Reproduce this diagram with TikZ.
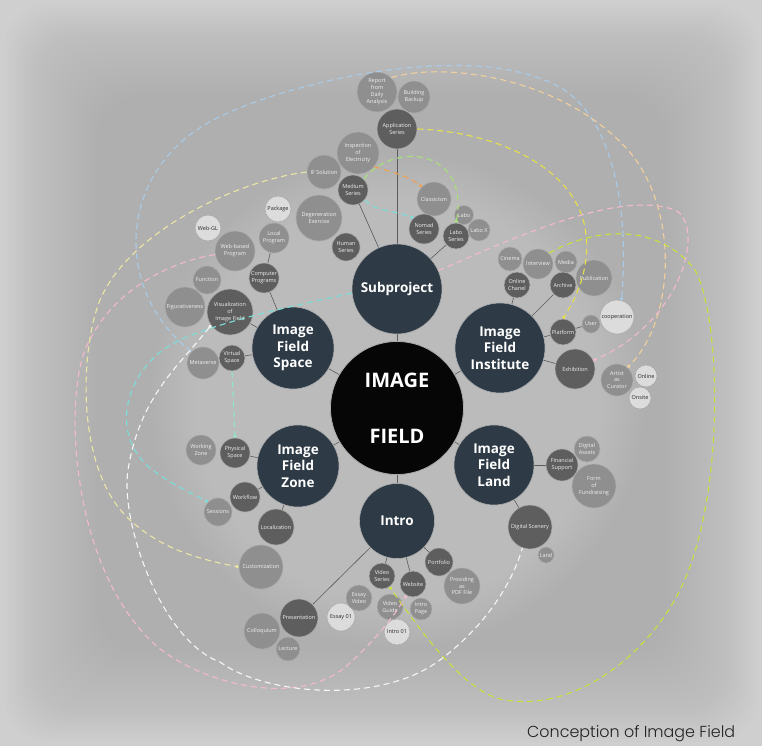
\documentclass[tikz,border=0pt]{standalone}
\usepackage{fontspec}
\usepackage{graphicx}
\setmainfont{Open Sans}
\newfontfamily\capfont{Poppins}[UprightFont={* Light}]
\usetikzlibrary{arrows.meta,fadings}

\definecolor{bgouter}{HTML}{CFCFCF}
\definecolor{bgshade}{HTML}{A0A0A0}
\definecolor{hubfill}{HTML}{2E3B46}
\definecolor{corefill}{HTML}{060606}
\definecolor{dkfill}{HTML}{5E5E5E}
\definecolor{mdfill}{HTML}{8F8F8F}
\definecolor{ltfill}{HTML}{DCDCDC}
\definecolor{ring}{HTML}{ABABAB}
\definecolor{linkgray}{HTML}{5A5A5A}
\definecolor{txtlight}{HTML}{EFEFEF}
\definecolor{txtdark}{HTML}{2A2A2A}
\definecolor{captext}{HTML}{222222}
% dashed relation colours
\definecolor{skyc}{HTML}{A9CBE8}
\definecolor{peachc}{HTML}{F1D09C}
\definecolor{yellowc}{HTML}{E6E04A}
\definecolor{limec}{HTML}{C6E23C}
\definecolor{greenc}{HTML}{A8E07A}
\definecolor{cyanc}{HTML}{7CDED8}
\definecolor{orangec}{HTML}{EFA052}
\definecolor{pinkc}{HTML}{F2BACB}
\definecolor{whitec}{HTML}{F6F6F6}
\definecolor{creamc}{HTML}{ECE6A6}
\definecolor{mintc}{HTML}{8EE8C6}

\pgfdeclarelayer{bg}
\pgfsetlayers{bg,main}

\tikzset{
  bub/.style={circle, inner sep=0pt, align=center, draw=ring, line width=0.6pt,
    font=\fontsize{5.5}{6.9}\selectfont},
  core/.style={circle, inner sep=0pt, align=center, draw=ring, line width=0.8pt,
    fill=corefill, text=white, minimum size=133pt,
    font=\bfseries\fontsize{20}{26}\selectfont},
  hub/.style={bub, fill=hubfill, text=white, minimum size=#1,
    font=\bfseries\fontsize{13.5}{16.5}\selectfont},
  dk/.style={bub, fill=dkfill, text=txtlight, minimum size=#1},
  md/.style={bub, fill=mdfill, text=txtlight, minimum size=#1},
  lt/.style={bub, fill=ltfill, text=txtdark, minimum size=#1},
  link/.style={draw=linkgray, line width=0.6pt},
  flow/.style={line width=1.1pt, dash pattern=on 6pt off 4pt,
    -{Circle[length=3.2pt,width=3.2pt]}},
  backflow/.style={line width=1.1pt, dash pattern=on 6pt off 4pt,
    {Circle[length=3.2pt,width=3.2pt]}-},
}

\begin{document}
\begin{tikzpicture}[x=1pt, y=-1pt]
\useasboundingbox (0,0) rectangle (762,746);

% ---------- backdrop: soft frame, darker field, light halo ----------
\begin{pgfonlayer}{bg}
  \fill[bgouter] (0,0) rectangle (762,746);
  \foreach \i in {0,...,23}
    \fill[bgshade, opacity=0.032, rounded corners=45pt]
      (4+4*\i,4+4*\i) rectangle (758-4*\i,742-4*\i);
  \fill[white, opacity=0.16, path fading=circle with fuzzy edge 20 percent]
    (397,400) circle (250);
\end{pgfonlayer}

% ---------- centre and main branches ----------
\node[core] (core) at (397,408) {IMAGE\\[30pt]FIELD};
\node[hub=90pt] (sub)   at (397,289) {Subproject};
\node[hub=82pt] (space) at (293,348) {Image\\Field\\Space};
\node[hub=90pt] (inst)  at (500,348) {Image\\Field\\Institute};
\node[hub=82pt] (zone)  at (298,466) {Image\\Field\\Zone};
\node[hub=80pt] (land)  at (494,465) {Image\\Field\\Land};
\node[hub=75pt] (intro) at (397,521) {Intro};

% ---------- Subproject ----------
\node[dk=40pt] (appl)    at (397,129) {Application\\Series};
\node[md=40pt] (report)  at (377,92)  {Report\\from\\Daily\\Analysis};
\node[md=32pt] (backup)  at (414,97)  {Building\\Backup};
\node[md=42pt] (inspect) at (358,153) {Inspection\\of\\Electricity};
\node[md=34pt] (ifsol)   at (324,172) {IF Solution};
\node[dk=30pt] (medium)  at (353,190) {Medium\\Series};
\node[md=34pt] (classic) at (434,199) {Classicism};
\node[md=46pt] (degen)   at (319,218) {Degeneration\\Exercise};
\node[md=19pt] (labo)    at (464,215) {Labo};
\node[md=22pt] (labox)   at (479,230) {Labo X};
\node[dk=30pt] (nomad)   at (424,229) {Nomad\\Series};
\node[dk=26pt] (labos)   at (456,236) {Labo\\Series};
\node[dk=28pt] (human)   at (346,247) {Human\\Series};

% ---------- Image Field Space ----------
\node[lt=26pt] (package)   at (278,209) {Package};
\node[lt=26pt] (webgl)     at (208,228) {Web-GL};
\node[md=30pt] (local)     at (274,238) {Local\\Program};
\node[md=40pt] (webbased)  at (235,251) {Web-based\\Program};
\node[dk=30pt] (computer)  at (264,278) {Computer\\Programs};
\node[md=28pt] (function)  at (207,280) {Function};
\node[md=40pt] (figur)     at (185,307) {Figurativeness};
\node[dk=46pt] (visual)    at (230,312) {Visualization\\of\\Image Field};
\node[md=32pt] (metaverse) at (203,363) {Metaverse};
\node[dk=26pt] (virtual)   at (232,358) {Virtual\\Space};

% ---------- Image Field Zone ----------
\node[md=30pt] (working)  at (201,450) {Working\\Zone};
\node[dk=30pt] (physical) at (235,453) {Physical\\Space};
\node[dk=30pt] (workflow) at (245,497) {Workflow};
\node[md=28pt] (sessions) at (218,512) {Sessions};
\node[dk=36pt] (localiz)  at (276,527) {Localization};
\node[md=44pt] (custom)   at (261,567) {Customization};

% ---------- Intro ----------
\node[dk=38pt] (present)   at (299,618) {Presentation};
\node[md=36pt] (colloq)    at (262,631) {Colloquium};
\node[md=24pt] (lecture)   at (288,649) {Lecture};
\node[lt=28pt] (essay1)    at (341,617) {Essay 01};
\node[md=26pt] (essayv)    at (359,598) {Essay\\Video};
\node[dk=26pt] (videos)    at (382,576) {Video\\Series};
\node[md=26pt] (videog)    at (390,607) {Video\\Guide};
\node[lt=26pt] (intro1)    at (397,632) {Intro 01};
\node[dk=26pt] (website)   at (413,584) {Website};
\node[md=22pt] (intropage) at (421,609) {Intro\\Page};
\node[md=36pt] (pdf)       at (462,586) {Providing\\as\\PDF File};
\node[dk=28pt] (portfolio) at (439,562) {Portfolio};

% ---------- Image Field Institute ----------
\node[md=24pt] (cinema)    at (510,259) {Cinema};
\node[md=30pt] (interview) at (538,264) {Interview};
\node[md=22pt] (media)     at (566,262) {Media};
\node[dk=26pt] (chanel)    at (517,285) {Online\\Chanel};
\node[dk=26pt] (archive)   at (563,285) {Archive};
\node[md=36pt] (public)    at (594,278) {Publication};
\node[lt=34pt] (coop)      at (617,317) {cooperation};
\node[dk=26pt] (platform)  at (563,332) {Platform};
\node[md=18pt] (user)      at (591,324) {User};
\node[dk=40pt] (exhib)     at (575,369) {Exhibition};
\node[md=32pt] (artist)    at (617,380) {Artist\\as\\Curator};
\node[lt=22pt] (online)    at (646,376) {Online};
\node[lt=22pt] (onsite)    at (640,398) {Onsite};

% ---------- Image Field Land ----------
\node[dk=32pt] (finance) at (562,465) {Financial\\Support};
\node[md=26pt] (assets)  at (587,449) {Digital\\Assets};
\node[md=44pt] (fund)    at (594,486) {Form\\of\\Fundraising};
\node[dk=44pt] (scenery) at (530,527) {Digital Scenery};
\node[md=16pt] (landlet) at (546,555) {Land};

% ---------- tree links ----------
\begin{pgfonlayer}{bg}
  \foreach \a/\b in {core/sub, core/space, core/inst, core/zone, core/land, core/intro,
      sub/appl, sub/medium, sub/labos,
      space/computer, computer/local, space/visual, space/virtual,
      inst/chanel, inst/archive, inst/platform, inst/exhib, platform/user,
      zone/physical, zone/workflow, zone/localiz,
      land/finance, land/scenery,
      intro/videos, intro/website, intro/portfolio, intro/present}
    \draw[link] (\a) -- (\b);
\end{pgfonlayer}

% ---------- cross relations ----------
\draw[flow, skyc] (metaverse.135) .. controls (110,290) and (115,160) .. (228,113)
  .. controls (300,80) and (460,45) .. (544,80)
  .. controls (610,102) and (630,200) .. (coop.75);
\draw[flow, peachc] (report.45) .. controls (440,62) and (560,75) .. (628,150)
  .. controls (680,210) and (675,320) .. (artist.50);
\draw[flow, yellowc] (appl.east) .. controls (500,132) and (580,170) .. (586,235)
  .. controls (590,270) and (575,300) .. (platform.north);
\draw[flow, limec] (interview.45) .. controls (600,225) and (660,225) .. (695,270)
  .. controls (722,320) and (725,500) .. (680,590)
  .. controls (650,650) and (580,712) .. (505,700)
  .. controls (465,694) and (420,630) .. (videos.-55);
\draw[flow, pinkc] (webbased.190) .. controls (170,262) and (110,290) .. (85,350)
  .. controls (65,400) and (70,560) .. (150,640)
  .. controls (190,680) and (300,715) .. (353,660)
  .. controls (375,640) and (395,615) .. (website.240);
\draw[flow, pinkc] (sub.24) .. controls (520,235) and (620,190) .. (675,210)
  .. controls (705,225) and (685,320) .. (exhib.25);
\draw[backflow, whitec] (visual.215) .. controls (180,365) and (140,395) .. (128,470)
  .. controls (120,520) and (160,640) .. (220,662)
  .. controls (265,695) and (380,705) .. (440,660)
  .. controls (480,630) and (510,590) .. (scenery.250);
\draw[flow, cyanc] (sub.185) .. controls (300,305) and (230,318) .. (180,340)
  .. controls (130,362) and (105,430) .. (150,468)
  .. controls (170,484) and (190,492) .. (sessions.135);
\draw[flow, creamc] (ifsol.west) .. controls (240,180) and (130,230) .. (100,300)
  .. controls (80,350) and (75,470) .. (130,520)
  .. controls (165,552) and (205,560) .. (custom.west);
\draw[flow, greenc] (medium.45) .. controls (395,140) and (470,150) .. (labos.north);
\draw[flow, cyanc] (medium.-40) .. controls (375,212) and (395,210) .. (nomad.135);
\draw[flow, orangec] (inspect.-40) .. controls (392,172) and (408,176) .. (classic.135);
\draw[flow, mintc] (virtual.south) -- (physical.north);

% ---------- caption ----------
\node[anchor=base west, inner sep=0pt, text=captext] (caption) at (527,737)
  {\resizebox{208pt}{!}{\capfont Conception of Image Field}};
\end{tikzpicture}
\end{document}
